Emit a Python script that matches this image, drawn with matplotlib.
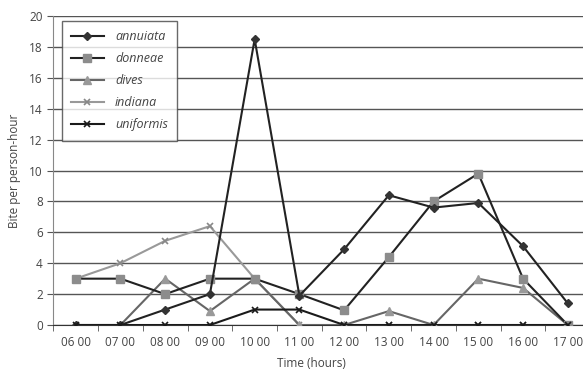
import matplotlib.pyplot as plt

# time categories (x axis)
hours = ['06 00', '07 00', '08 00', '09 00', '10 00', '11 00',
         '12 00', '13 00', '14 00', '15 00', '16 00', '17 00']

# bites per person-hour for each species
annuiata = [0, 0, 1, 2, 18.5, 1.9, 4.9, 8.4, 7.6, 7.9, 5.1, 1.4]
donneae = [3, 3, 2, 3, 3, 2, 0.95, 4.4, 8.0, 9.8, 3, 0]
dives = [0, 0, 3, 0.9, 3, 0, 0, 0.9, 0, 3, 2.4, 0]
indiana = [3, 4, 5.45, 6.4, 3, 0, 0, 0, 0, 0, 0, 0]
uniformis = [0, 0, 0, 0, 1, 1, 0, 0, 0, 0, 0, 0]

plt.rcParams['font.family'] = ['Open Sans', 'DejaVu Sans']
txt = '#444444'

fig = plt.figure(figsize=(5.83, 3.69), dpi=100)
ax = fig.add_axes([0.0915, 0.1192, 0.9208, 0.8374])

x = list(range(len(hours)))

ax.plot(x, annuiata, color='#222222', lw=1.5, marker='D', ms=4,
        mfc='#333333', mec='#333333', label='annuiata', zorder=5)
ax.plot(x, donneae, color='#222222', lw=1.5, marker='s', ms=6,
        mfc='#8c8c8c', mec='#8c8c8c', label='donneae', zorder=4)
ax.plot(x, dives, color='#666666', lw=1.5, marker='^', ms=6,
        mfc='#999999', mec='#999999', label='dives', zorder=3)
ax.plot(x, indiana, color='#999999', lw=1.5, marker='x', ms=5,
        mec='#888888', mew=1.2, label='indiana', zorder=2)
ax.plot(x, uniformis, color='#1a1a1a', lw=1.5, marker='x', ms=5,
        mec='#1a1a1a', mew=1.2, label='uniformis', zorder=6)

ax.set_xlim(-0.5, len(hours) - 0.5)
ax.set_ylim(0, 20)
ax.set_yticks(range(0, 21, 2))
ax.set_xticks(x)
ax.set_xticklabels(hours)
ax.set_xticks([i - 0.5 for i in range(len(hours) + 1)], minor=True)
ax.tick_params(axis='x', which='major', length=0, pad=8, labelsize=8.5, labelcolor=txt)
ax.tick_params(axis='x', which='minor', length=4, color='#555555')
ax.tick_params(axis='y', length=4, color='#555555', labelsize=8.5, labelcolor=txt)

ax.grid(axis='y', color='#555555', lw=1)
ax.set_axisbelow(True)
for s in ['top', 'right']:
    ax.spines[s].set_visible(False)
ax.spines['left'].set_color('#888888')
ax.spines['bottom'].set_color('#333333')

ax.set_ylabel('Bite per person-hour', fontsize=8.5, color=txt, labelpad=6)
ax.set_xlabel('Time (hours)', fontsize=8.5, color=txt, labelpad=3)
ax.xaxis.set_label_coords(0.48, -0.102)

leg = ax.legend(loc='upper left', bbox_to_anchor=(0.0157, 0.984), borderaxespad=0,
                fontsize=9, frameon=True, fancybox=False, edgecolor='#444444',
                handlelength=2.6, handletextpad=0.9, labelspacing=0.72,
                borderpad=0.75)
leg.get_frame().set_linewidth(1)
for t in leg.get_texts():
    t.set_style('italic')
    t.set_color(txt)

fig.savefig('out.png', dpi=100)
